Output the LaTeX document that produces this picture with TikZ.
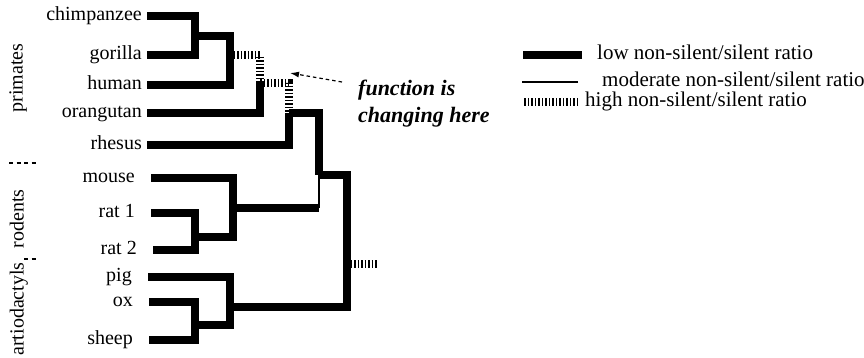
\documentclass[tikz,border=0pt]{standalone}
\usepackage{fontspec}
\setmainfont{Liberation Serif}
\usetikzlibrary{arrows.meta}

\begin{document}
\begin{tikzpicture}[
    x=1pt, y=-1pt,
    leaf/.style={anchor=east, inner xsep=5pt, inner ysep=0pt, text height=13pt, text depth=4pt, font=\fontsize{20}{24}\selectfont},
    farleaf/.style={leaf, inner xsep=16pt},
    clade/.style={rotate=90, inner sep=0pt, text height=13pt, text depth=4pt, font=\fontsize{20}{24}\selectfont},
    keytext/.style={anchor=west, inner sep=0pt, text height=13pt, text depth=4pt, font=\fontsize{21}{24}\selectfont},
    note/.style={anchor=west, align=left, inner sep=0pt, font=\fontsize{22}{27}\selectfont\bfseries\itshape},
    lowratio/.style={line width=7.5pt},
    modratio/.style={line width=1.2pt},
    highratio/.style={line width=7.5pt, dash pattern=on 1.5pt off 2pt},
    divider/.style={line width=1.2pt, dash pattern=on 4pt off 3.5pt},
    pointer/.style={-{Latex[length=9pt,width=6pt]}, line width=1.2pt, dash pattern=on 3.5pt off 3pt}
  ]
  \useasboundingbox (0,0) rectangle (864,357);

  % taxa
  \node[leaf] (chimp) at (147,16) {chimpanzee};
  \node[leaf] (gorilla) at (147,55) {gorilla};
  \node[leaf] (human) at (147,85) {human};
  \node[leaf] (orang) at (147,113) {orangutan};
  \node[leaf] (rhesus) at (147,145) {rhesus};
  \node[farleaf] (mouse) at (151,178) {mouse};
  \node[farleaf] (ratA) at (151,213) {rat 1};
  \node[farleaf] (ratB) at (153,250) {rat 2};
  \node[farleaf] (pig) at (148,277) {pig};
  \node[farleaf] (ox) at (149,302) {ox};
  \node[farleaf] (sheep) at (149,340) {sheep};

  % groups down the left side
  \node[clade] (primates) at (18,78) {primates};
  \node[clade] (rodents) at (19,219) {rodents};
  \node[clade] (artio) at (19,309) {artiodactyls};
  \coordinate (d1a) at (9,163);
  \coordinate (d1b) at (38,163);
  \coordinate (d2a) at (24,259);
  \coordinate (d2b) at (38,259);
  \draw[divider] (d1a) -- (d1b);
  \draw[divider] (d2a) -- (d2b);

  % internal nodes
  \coordinate (cg) at (195,36);
  \coordinate (cgh) at (230,55);
  \coordinate (ape) at (260,83);
  \coordinate (prim) at (289,113);
  \coordinate (pr) at (319,175);
  \coordinate (rodtop) at (319,208);
  \coordinate (rod) at (233,208);
  \coordinate (rr) at (195,237);
  \coordinate (art) at (230,307);
  \coordinate (oxs) at (195,325);
  \coordinate (root) at (347,264);
  \coordinate (rootstem) at (378,264);

  % primates
  \draw[lowratio] (chimp.east) -| (cg) |- (gorilla.east);
  \draw[lowratio] (cg) -| (cgh) |- (human.east);
  \draw[highratio] (cgh) -| (ape);
  \draw[lowratio] (ape) |- (orang.east);
  \draw[highratio] (ape) -| (prim);
  \draw[lowratio] (prim) |- (rhesus.east);
  \draw[lowratio] (prim) -| (pr);

  % rodents
  \draw[lowratio] (ratA.east) -| (rr) |- (ratB.east);
  \draw[lowratio] (mouse.east) -| (rod) |- (rr);
  \draw[lowratio] (rod) -- (rodtop);
  \draw[modratio] (pr) -- (rodtop);

  % artiodactyls
  \draw[lowratio] (ox.east) -| (oxs) |- (sheep.east);
  \draw[lowratio] (pig.east) -| (art) |- (oxs);

  % root
  \draw[lowratio] (pr) -| (root) |- (art);
  \draw[highratio] (root) -- (rootstem);

  % remark
  \node[note] (fn) at (358,104) {function is\\changing here};
  \coordinate (tail) at (342,82);
  \coordinate (tip) at (290,73);
  \draw[pointer] (tail) -- (tip);

  % key
  \node[keytext] (lowkey) at (597,55) {low non-silent/silent ratio};
  \node[keytext] (modkey) at (602,82) {moderate non-silent/silent ratio};
  \node[keytext] (highkey) at (585,102) {high non-silent/silent ratio};
  \draw[lowratio] ([xshift=-15pt]lowkey.west) -- ++(-59,0);
  \draw[modratio] ([xshift=-24pt]modkey.west) -- ++(-56,0);
  \draw[highratio] ([xshift=-7pt]highkey.west) -- ++(-55,0);
\end{tikzpicture}
\end{document}
